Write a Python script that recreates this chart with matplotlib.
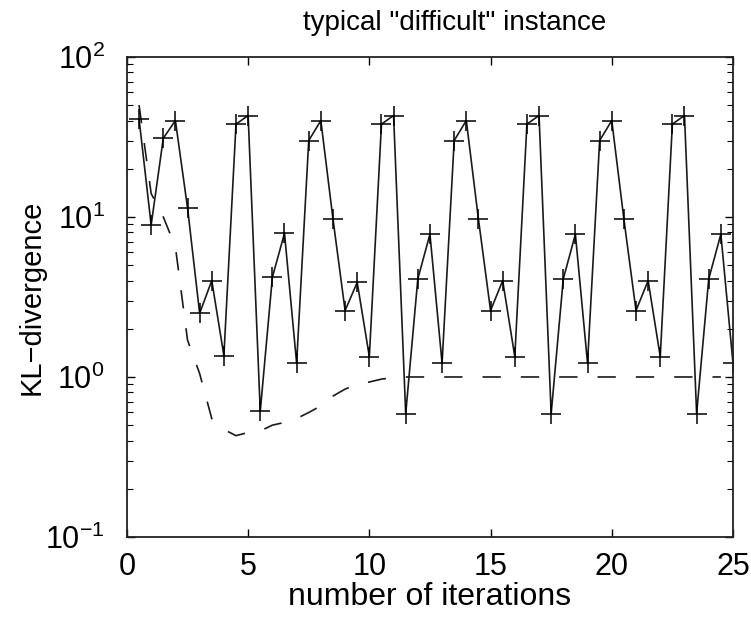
"""
KL-divergence vs. number of iterations for a typical "difficult" instance.
"""
import numpy as np
import matplotlib
matplotlib.use('Agg')
import matplotlib.pyplot as plt
from matplotlib.ticker import LogLocator, NullFormatter

# Oscillating run (solid, + markers), one value every half iteration
osc_iter = np.arange(0.5, 25.01, 0.5)
osc_kl = [41, 8.9, 31, 40, 11.4, 2.5, 4.0, 1.36, 38, 43,
          0.61, 4.2, 7.9, 1.22, 30, 40, 9.7, 2.6, 3.9, 1.34,
          38, 43, 0.59, 4.1, 7.8, 1.22, 30, 40, 9.7, 2.6,
          4.0, 1.34, 38, 43, 0.59, 4.1, 7.8, 1.22, 30, 40,
          9.7, 2.6, 4.0, 1.34, 38, 43, 0.59, 4.1, 7.8, 1.22]

# Damped run (dashed)
damp_iter = np.arange(0.5, 24.51, 0.5)
damp_kl = [50, 14, 10, 6.5, 1.7, 1.05, 0.55, 0.47, 0.43, 0.45,
           0.46, 0.5, 0.52, 0.55, 0.6, 0.66, 0.76, 0.84, 0.9, 0.93,
           0.97, 0.99] + [1.0] * 27

plt.rcParams['font.family'] = ['Liberation Sans', 'DejaVu Sans']
plt.rcParams['mathtext.fontset'] = 'custom'
plt.rcParams['mathtext.rm'] = 'Liberation Sans'

fig = plt.figure(figsize=(7.51, 6.18), dpi=100)
ax = fig.add_axes([0.169, 0.131, 0.807, 0.777])

ax.plot(damp_iter, damp_kl, color='#1a1a1a', lw=1.2, ls=(0, (11, 12)))
ax.plot(osc_iter, osc_kl, color='#1a1a1a', lw=1.2, marker='+',
        markersize=14, markeredgewidth=1.1, markeredgecolor='black')

ax.set_yscale('log')
ax.set_xlim(0, 25)
ax.set_ylim(0.1, 100)
ax.set_xticks([0, 5, 10, 15, 20, 25])
ax.yaxis.set_major_locator(LogLocator(base=10, numticks=10))
ax.yaxis.set_minor_locator(LogLocator(base=10, subs=np.arange(2, 10), numticks=10))
ax.yaxis.set_minor_formatter(NullFormatter())

ax.tick_params(which='both', direction='in', top=True, right=True,
               labelsize=22)
ax.tick_params(axis='x', pad=11)
ax.tick_params(axis='y', pad=16)
ax.tick_params(which='major', length=6, width=1)
ax.tick_params(which='minor', length=4, width=0.8)
for s in ax.spines.values():
    s.set_linewidth(1.3)
    s.set_color('#222222')

ax.set_xlabel('number of iterations', fontsize=23, labelpad=0)
ax.set_ylabel('KL\u2212divergence', fontsize=21, labelpad=0)
ax.set_title('typical "difficult" instance', fontsize=20, pad=19, x=0.54)

fig.savefig('out.png', dpi=100)
